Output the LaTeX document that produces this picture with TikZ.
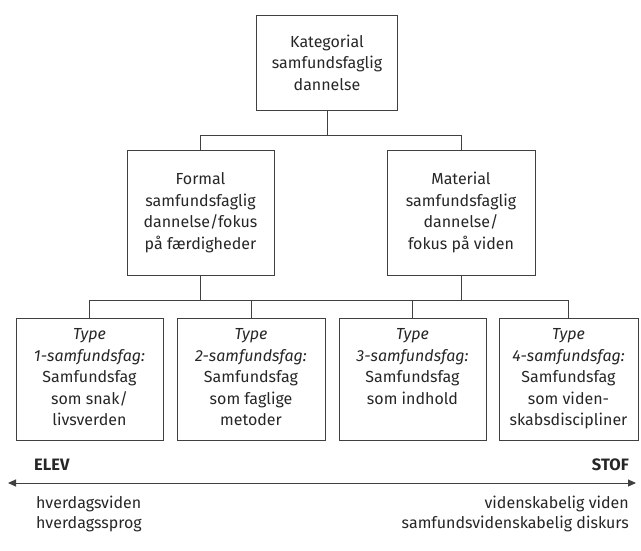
\documentclass[tikz,border=0pt]{standalone}
\usepackage{fontspec}
\setmainfont{Fira Sans}
\usetikzlibrary{arrows.meta}
\definecolor{txtc}{HTML}{262626}
\definecolor{linec}{HTML}{404040}
\begin{document}
\begin{tikzpicture}[x=1pt,y=-1pt,
  box/.style={draw=linec, line width=0.9pt, align=center, inner sep=0pt,
    font=\fontsize{16}{21.5}\selectfont, text=txtc},
  conn/.style={draw=linec, line width=1pt},
  lab/.style={inner sep=0pt, text=txtc, font=\fontsize{16}{19.5}\selectfont},
  pole/.style={inner sep=0pt, text=txtc, font=\fontsize{16.5}{19.5}\selectfont\bfseries}]
\useasboundingbox (0,0) rectangle (641,550);
% level 1
\node[box, minimum width=141pt, minimum height=95pt] (top) at (327,62.5)
  {Kategorial\\samfundsfaglig\\dannelse};
% level 2
\node[box, minimum width=147pt, minimum height=125pt] (formal) at (200.5,212.5)
  {Formal\\samfundsfaglig\\dannelse/fokus\\på færdigheder};
\node[box, minimum width=148pt, minimum height=125pt] (material) at (461,212.5)
  {Material\\samfundsfaglig\\dannelse/\\fokus på viden};
% level 3
\node[box, minimum width=147pt, minimum height=122pt] (t1) at (89.5,379)
  {\textit{Type}\\\textit{1-samfundsfag:}\\Samfundsfag\\som snak/\\livsverden\vphantom{p}};
\node[box, minimum width=148pt, minimum height=122pt] (t2) at (251,379)
  {\textit{Type}\\\textit{2-samfundsfag:}\\Samfundsfag\\som faglige\\metoder\vphantom{p}};
\node[box, minimum width=147pt, minimum height=122pt] (t3) at (412.5,379)
  {\textit{Type}\\\textit{3-samfundsfag:}\\Samfundsfag\\som indhold\\\vphantom{p}};
\node[box, minimum width=139pt, minimum height=122pt] (t4) at (568.5,379)
  {\textit{Type}\\\textit{4-samfundsfag:}\\Samfundsfag\\som viden-\\skabsdiscipliner};
% connectors level 1 -> 2
\path (top.south) ++(0,25) coordinate (b1);
\draw[conn] (top.south) -- (b1);
\draw[conn] (formal.north) |- (b1) -| (material.north);
% connectors level 2 -> 3
\path (formal.south) ++(0,25) coordinate (b2);
\draw[conn] (formal.south) -- (b2);
\draw[conn] (material.south) -- (material.south |- b2);
\draw[conn] (t1.north) |- (b2) -| (t4.north);
\draw[conn] (t2.north) -- (t2.north |- b2);
\draw[conn] (t3.north) -- (t3.north |- b2);
% axis
\coordinate (axL) at (8,483);
\coordinate (axR) at (636,483);
\draw[conn, {Triangle[length=8pt,width=7pt]}-{Triangle[length=8pt,width=7pt]}] (axL) -- (axR);
\node[pole, anchor=base west] (elev) at (34,470) {ELEV};
\node[pole, anchor=base east] (stof) at (629,470) {STOF};
\node[lab, anchor=north west, align=left] (left) at (36,496)
  {hverdagsviden\\hverdagssprog};
\node[lab, anchor=north east, align=right] (right) at (629,496)
  {videnskabelig viden\\samfundsvidenskabelig diskurs};
\end{tikzpicture}
\end{document}
